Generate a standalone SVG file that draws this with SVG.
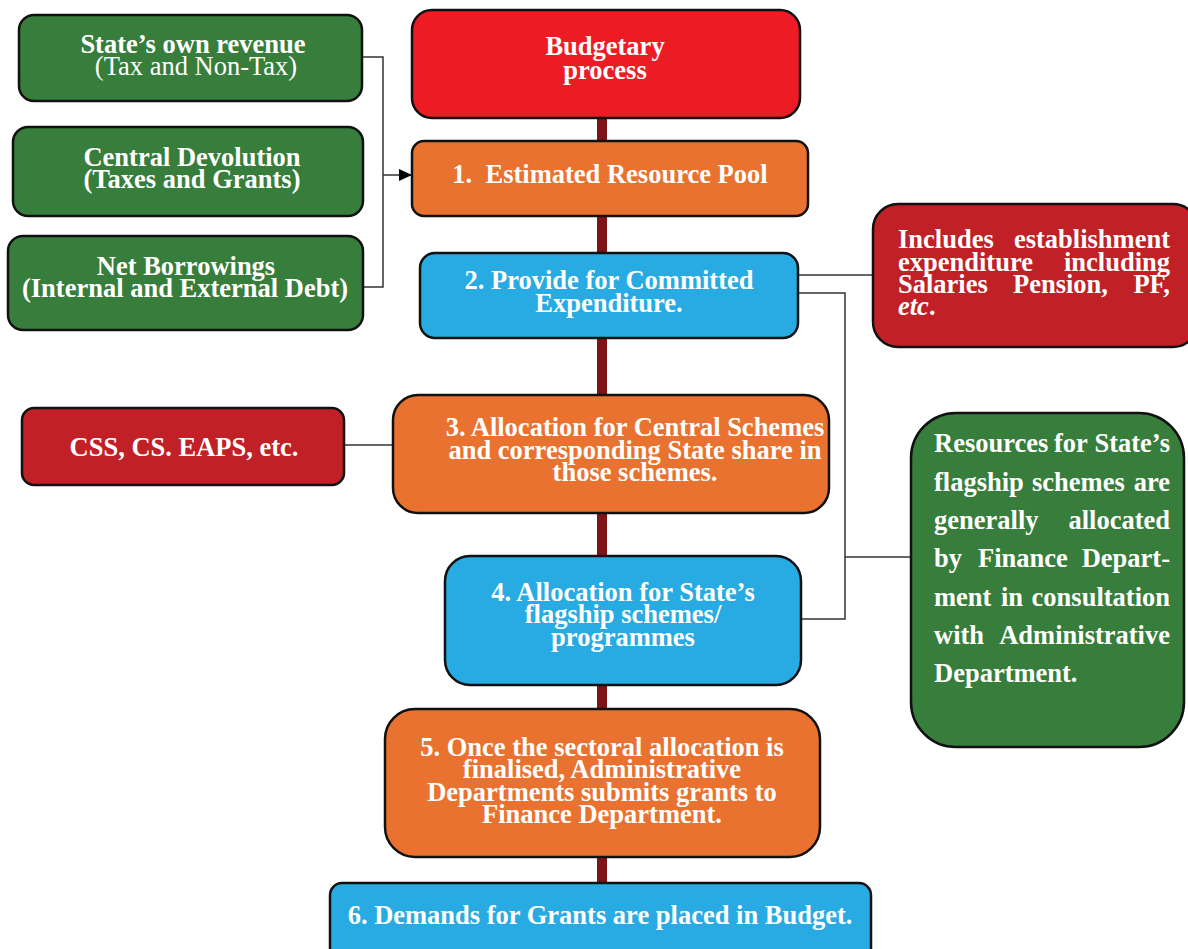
<svg xmlns="http://www.w3.org/2000/svg" width="1188" height="949" viewBox="0 0 1188 949">
<defs>
<style>
.box{stroke:#111;stroke-width:2.5}
.g{fill:#377D3B}.o{fill:#E97230}.b{fill:#27ABE2}.r{fill:#ED1C24}.dr{fill:#C02026}
text{font-family:"Liberation Serif","Times New Roman",serif;font-size:26.5px;font-weight:bold;fill:#fff}
.c{text-anchor:middle}.e{text-anchor:end}
.n{font-weight:normal}
.con{fill:none;stroke:#333;stroke-width:1.5}
</style>
<marker id="arr" viewBox="0 0 10 10" refX="10" refY="5" markerWidth="13" markerHeight="12" markerUnits="userSpaceOnUse" orient="auto" preserveAspectRatio="none">
<path d="M0,0 L10,5 L0,10 z" fill="#000"/>
</marker>
</defs>
<rect width="1188" height="949" fill="#fff"/>
<g id="connectors">
<line x1="602" y1="110" x2="602" y2="890" stroke="#7F1418" stroke-width="10"/>
<polyline class="con" points="362,57 383,57 383,287 362,287"/>
<line class="con" x1="383" y1="175" x2="412" y2="175" marker-end="url(#arr)" stroke="#000"/>
<line class="con" x1="798" y1="275" x2="873" y2="275"/>
<polyline class="con" points="798,293 845,293 845,619 801,619"/>
<line class="con" x1="845" y1="557" x2="911" y2="557"/>
<line class="con" x1="344" y1="445" x2="393" y2="445"/>
</g>
<g id="src1"><rect class="box g" x="19" y="15" width="343" height="86" rx="15"/>
<text class="c" x="193" y="53">State’s own revenue</text><text class="c n" x="196" y="75">(Tax and Non-Tax)</text></g>
<g id="src2"><rect class="box g" x="13" y="127" width="350" height="89" rx="15"/>
<text class="c" x="192" y="166">Central Devolution</text><text class="c" x="192" y="188">(Taxes and Grants)</text></g>
<g id="src3"><rect class="box g" x="8" y="236" width="355" height="94" rx="15"/>
<text class="c" x="186" y="275">Net Borrowings</text><text class="c" x="185" y="297">(Internal and External Debt)</text></g>
<g id="budget"><rect class="box r" x="412" y="10" width="388" height="108" rx="20"/>
<text class="c" x="605" y="55">Budgetary</text><text class="c" x="605" y="79">process</text></g>
<g id="step1"><rect class="box o" x="412" y="141" width="396" height="75" rx="12"/>
<text class="c" x="610" y="183" xml:space="preserve">1.  Estimated Resource Pool</text></g>
<g id="step2"><rect class="box b" x="420" y="253" width="378" height="85" rx="15"/>
<text class="c" x="609" y="289">2. Provide for Committed</text><text class="c" x="609" y="312">Expenditure.</text></g>
<g id="committed"><rect class="box dr" x="873" y="204" width="325" height="143" rx="25"/>
<text x="898" y="248">Includes</text><text class="e" x="1170" y="248">establishment</text>
<text x="898" y="271">expenditure</text><text class="e" x="1170" y="271">including</text>
<text x="898" y="293">Salaries</text><text x="1013" y="293">Pension,</text><text class="e" x="1170" y="293">PF,</text>
<text x="898" y="315"><tspan font-style="italic">etc</tspan>.</text></g>
<g id="css"><rect class="box dr" x="22" y="408" width="322" height="77" rx="12"/>
<text class="c" x="184" y="456">CSS, CS. EAPS, etc.</text></g>
<g id="step3"><rect class="box o" x="393" y="395" width="436" height="118" rx="25"/>
<text class="c" x="635" y="436">3. Allocation for Central Schemes</text><text class="c" x="635" y="459">and corresponding State share in</text><text class="c" x="635" y="481">those schemes.</text></g>
<g id="step4"><rect class="box b" x="445" y="556" width="356" height="129" rx="25"/>
<text class="c" x="623" y="601">4. Allocation for State’s</text><text class="c" x="623" y="623">flagship schemes/</text><text class="c" x="623" y="646">programmes</text></g>
<g id="flagship"><rect class="box g" x="911" y="413" width="273" height="334" rx="45"/>
<text x="934" y="452">Resources</text><text x="1054" y="452">for</text><text class="e" x="1170" y="452">State’s</text>
<text x="934" y="491">flagship</text><text x="1032" y="491">schemes</text><text class="e" x="1170" y="491">are</text>
<text x="934" y="529">generally</text><text class="e" x="1170" y="529">allocated</text>
<text x="934" y="567">by</text><text x="978" y="567">Finance</text><text class="e" x="1170" y="567">Depart-</text>
<text x="934" y="606">ment</text><text x="1001" y="606">in</text><text class="e" x="1170" y="606">consultation</text>
<text x="934" y="644">with</text><text class="e" x="1170" y="644">Administrative</text>
<text x="934" y="682">Department.</text></g>
<g id="step5"><rect class="box o" x="385" y="709" width="435" height="148" rx="30"/>
<text class="c" x="602" y="756">5. Once the sectoral allocation is</text><text class="c" x="602" y="778">finalised, Administrative</text><text class="c" x="602" y="801">Departments submits grants to</text><text class="c" x="602" y="823">Finance Department.</text></g>
<g id="step6"><rect class="box b" x="330" y="883" width="541" height="80" rx="12"/>
<text class="c" x="600" y="924">6. Demands for Grants are placed in Budget.</text></g>
</svg>
